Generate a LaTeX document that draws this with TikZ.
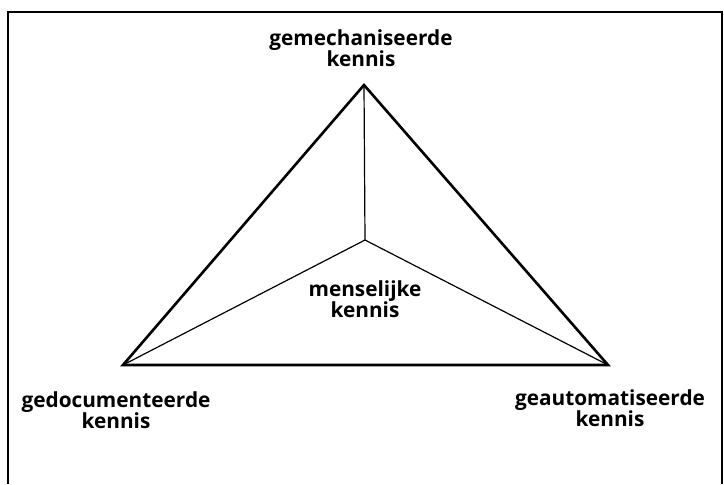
\documentclass[tikz,border=0pt]{standalone}
\usepackage{fontspec}
\setmainfont{Open Sans}
\usepackage{tikz}
\usetikzlibrary{calc,positioning}
\tikzset{
  label/.style={align=center, font=\bfseries\fontsize{10.4}{10.6}\selectfont, inner sep=1pt},
  edge/.style={draw=black, line width=1.3pt, line join=miter},
  spoke/.style={draw=black, line width=0.6pt},
  frame/.style={draw=black, line width=0.8pt}
}
\begin{document}
\begin{tikzpicture}[x=0.5pt, y=-0.5pt]
  \useasboundingbox (0,0) rectangle (724,484);
  % frame (no bottom line)
  \coordinate (fbl) at (8,484);
  \coordinate (ftl) at (8,12);
  \coordinate (ftr) at (722,12);
  \coordinate (fbr) at (722,484);
  \draw[frame] (fbl) -- (ftl) -- (ftr) -- (fbr);
  % corners of the triangle
  \coordinate (top) at (364,85);
  \coordinate (left) at (123,365);
  \coordinate (right) at (608,365);
  \coordinate (mid) at (365,240);
  \draw[spoke] (mid) -- (top);
  \draw[spoke] (mid) -- (left);
  \draw[spoke] (mid) -- (right);
  \draw[edge] (top) -- (left) -- (right) -- cycle;
  % labels
  \node[label] (mech) at (361,48) {gemechaniseerde\\kennis};
  \node[label] (mens) at (365,299) {menselijke\\kennis};
  \node[label] (doc) at (116,410) {gedocumenteerde\\kennis};
  \node[label] (auto) at (610,408) {geautomatiseerde\\kennis};
\end{tikzpicture}
\end{document}
